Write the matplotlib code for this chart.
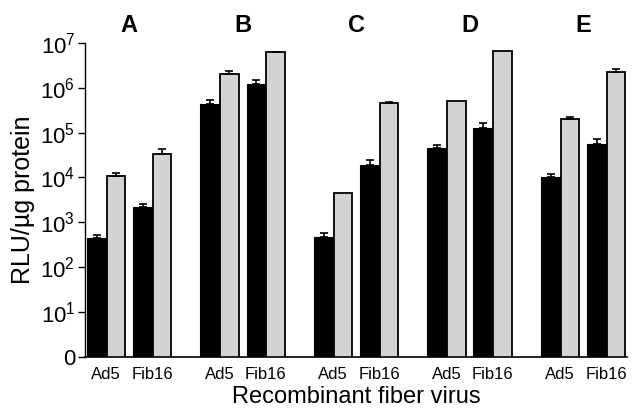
import numpy as np
import matplotlib.pyplot as plt

plt.rcParams['font.family'] = ['Liberation Sans', 'DejaVu Sans']
plt.rcParams['mathtext.fontset'] = 'custom'
plt.rcParams['mathtext.rm'] = 'Liberation Sans'
plt.rcParams['mathtext.it'] = 'Liberation Sans:italic'
plt.rcParams['mathtext.bf'] = 'Liberation Sans:bold'

groups = ['A', 'B', 'C', 'D', 'E']
viruses = ['Ad5', 'Fib16']

# RLU/ug protein, order per group: Ad5, Fib16
black_vals = [[450, 2200], [4.3e5, 1.2e6], [470, 1.9e4], [4.6e4, 1.25e5], [1.05e4, 5.7e4]]
black_err = [[80, 400], [1.0e5, 3.0e5], [120, 5000], [6000, 4.0e4], [1500, 1.6e4]]
gray_vals = [[1.1e4, 3.4e4], [2.0e6, 6.1e6], [4400, 4.6e5], [5.0e5, 6.7e6], [2.0e5, 2.2e6]]
gray_err = [[1500, 8000], [3.0e5, 2.0e5], [0, 2.0e4], [0, 0], [2.0e4, 4.0e5]]

fig = plt.figure(figsize=(6.32, 4.16), dpi=100)
ax = fig.add_axes([0.1345, 0.142, 0.858, 0.755])

g_pitch = 2.457
s_pitch = 1.0
bw = 0.43
gw = 0.40

tick_pos = []
tick_lab = []
for g in range(len(groups)):
    for s in range(len(viruses)):
        x0 = g * g_pitch + s * s_pitch
        bv = black_vals[g][s]
        gv = gray_vals[g][s]
        ax.bar(x0, bv, width=bw, align='edge', color='black', edgecolor='black',
               linewidth=0.8, zorder=2)
        ax.bar(x0 + bw, gv, width=gw, align='edge', color='#d3d3d3',
               edgecolor='black', linewidth=1.3, zorder=2)
        if black_err[g][s] > 0:
            ax.errorbar(x0 + bw / 2, bv, yerr=[[0], [black_err[g][s]]], fmt='none',
                        ecolor='black', elinewidth=1.2, capsize=3, capthick=1.2, zorder=3)
        if gray_err[g][s] > 0:
            ax.errorbar(x0 + bw + gw / 2, gv, yerr=[[0], [gray_err[g][s]]], fmt='none',
                        ecolor='black', elinewidth=1.2, capsize=3, capthick=1.2, zorder=3)
        tick_pos.append(x0 + (bw + gw) / 2)
        tick_lab.append(viruses[s])
    gc = g * g_pitch + (s_pitch + bw + gw) / 2
    ax.text(gc, 1.3e7 * 1.9, groups[g], ha='center', va='center', fontsize=17,
            fontweight='bold')

ax.set_yscale('log')
ax.set_ylim(1, 1e7)
ax.set_xlim(-0.04, 11.7)
yt = [10 ** k for k in range(8)]
ax.set_yticks(yt)
ax.set_yticklabels(['0'] + ['$\\mathrm{10^{%d}}$' % k for k in range(1, 8)], fontsize=16)
ax.minorticks_off()
ax.set_xticks(tick_pos)
ax.set_xticklabels(tick_lab, fontsize=12)
ax.tick_params(axis='x', length=0, pad=7)
ax.tick_params(axis='y', length=5, width=1, direction='out', pad=2)

for sp in ['top', 'right']:
    ax.spines[sp].set_visible(False)
ax.spines['left'].set_linewidth(1)
ax.spines['bottom'].set_linewidth(1.2)

ax.set_ylabel('RLU/\u00b5g protein', fontsize=18, labelpad=4)
ax.set_xlabel('Recombinant fiber virus', fontsize=17, labelpad=3)

fig.savefig('out.png', dpi=100)
